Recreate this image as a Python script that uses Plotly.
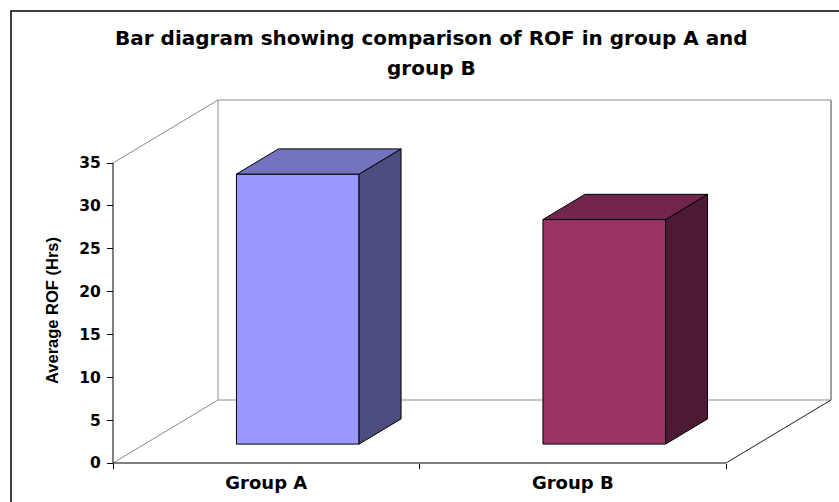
import plotly.graph_objects as go

# ---- data ----
categories = ["Group A", "Group B"]
rof_hours = [31.5, 26.2]
y_ticks = [0, 5, 10, 15, 20, 25, 30, 35]

front_colors = ["#9999FF", "#993366"]
top_colors = ["#7373BF", "#73264D"]
side_colors = ["#4D4D80", "#4D1A33"]

title_lines = ["Bar diagram showing comparison of ROF in group A and", "group B"]
y_title = "Average ROF (Hrs)"

# ---- oblique 3-D projection settings ----
W, H = 839, 502
PX_X = 306.5            # pixels per category unit on the front plane
PX_Y = 300 / 35         # pixels per hour on the front plane
DX = 105 / PX_X         # depth offset in x data units
DY = 63 / PX_Y          # depth offset in y data units
Y_MAX = 35
BAR_HALF = 0.2          # half bar width (category units)
T0, T1 = 0.3, 0.7       # bar depth span (fraction of full depth)
PAD = 3                 # px of breathing room around the plotting box

L = 113 - PAD
T = 100 - PAD
PW = 613 + 105 + 2 * PAD
PH = 300 + 63 + 2 * PAD
R = W - L - PW
B = H - T - PH


def proj(x, y, t):
    return x + t * DX, y + t * DY


fig = go.Figure()


def add_poly(pts, fill=None, color="black", width=1, closed=True):
    xy = [proj(*p) for p in pts]
    if closed:
        xy.append(xy[0])
    xs = [p[0] for p in xy]
    ys = [p[1] for p in xy]
    fig.add_trace(go.Scatter(
        x=xs, y=ys, mode="lines",
        fill="toself" if fill else None,
        fillcolor=fill,
        line=dict(color=color, width=width),
        hoverinfo="skip", showlegend=False,
    ))


x_lo, x_hi = -0.5, len(categories) - 0.5
wall_grey = "#8C8C8C"

# back wall
add_poly([(x_lo, 0, 1), (x_hi, 0, 1), (x_hi, Y_MAX, 1), (x_lo, Y_MAX, 1)],
         fill="white", color=wall_grey, width=1)
# right edge of the back wall (slightly heavier)
add_poly([(x_hi, 0, 1), (x_hi, Y_MAX, 1)], color="#A0A0A0", width=2, closed=False)
# side wall edges
add_poly([(x_lo, Y_MAX, 0), (x_lo, Y_MAX, 1)], color=wall_grey, closed=False)
add_poly([(x_lo, 0, 0), (x_lo, 0, 1)], color=wall_grey, closed=False)
# floor right edge
add_poly([(x_hi, 0, 0), (x_hi, 0, 1)], color="#202020", closed=False)

# bars
for i, v in enumerate(rof_hours):
    a, b = i - BAR_HALF, i + BAR_HALF
    # front face
    add_poly([(a, 0, T0), (b, 0, T0), (b, v, T0), (a, v, T0)], fill=front_colors[i])
    # right face
    add_poly([(b, 0, T0), (b, 0, T1), (b, v, T1), (b, v, T0)], fill=side_colors[i])
    # top face
    add_poly([(a, v, T0), (b, v, T0), (b, v, T1), (a, v, T1)], fill=top_colors[i])

# front axis lines
add_poly([(x_lo, 0, 0), (x_lo, Y_MAX, 0)], color="black", closed=False)
add_poly([(x_lo, 0, 0), (x_hi, 0, 0)], color="black", closed=False)

# invisible trace so the boundary-tick axis is rendered
fig.add_trace(go.Scatter(x=[0], y=[0], xaxis="x2", mode="markers",
                         marker=dict(opacity=0), hoverinfo="skip", showlegend=False))

x_range = [x_lo - PAD / PX_X, x_hi + DX + PAD / PX_X]
y_range = [-PAD / PX_Y, Y_MAX + DY + PAD / PX_Y]

tick_font = dict(family="DejaVu Sans", size=15.5, color="black", weight="bold")
cat_font = dict(family="DejaVu Sans", size=18, color="black", weight="bold")

fig.update_layout(
    width=W, height=H,
    margin=dict(l=L, r=R, t=T, b=B, pad=0),
    paper_bgcolor="white", plot_bgcolor="rgba(0,0,0,0)",
    showlegend=False,
    hovermode=False,
    xaxis=dict(
        range=x_range, anchor="free", position=PAD / PH,
        showgrid=False, zeroline=False, showline=False,
        tickmode="array", tickvals=list(range(len(categories))), ticktext=categories,
        ticks="", tickfont=cat_font, ticklabelstandoff=7,
    ),
    xaxis2=dict(
        range=x_range, overlaying="x", anchor="free", position=PAD / PH,
        showgrid=False, zeroline=False, showline=False,
        tickmode="array",
        tickvals=[k - 0.5 for k in range(len(categories) + 1)],
        ticks="outside", ticklen=5, tickwidth=1, tickcolor="black",
        showticklabels=False,
    ),
    yaxis=dict(
        range=y_range, anchor="free", position=PAD / PW,
        showgrid=False, zeroline=False, showline=False,
        tickmode="array", tickvals=y_ticks,
        ticks="outside", ticklen=6, tickwidth=1, tickcolor="black",
        tickfont=tick_font, ticklabelstandoff=3,
    ),
)

# chart frame
fig.add_shape(type="rect", xref="paper", yref="paper",
              x0=(11 - L) / PW, x1=(W + 10 - L) / PW,
              y0=(T + PH - (H + 10)) / PH, y1=(T + PH - 11) / PH,
              line=dict(color="black", width=1.5), fillcolor="rgba(0,0,0,0)", layer="below")

# title (two lines)
title_font = dict(family="DejaVu Sans", size=20, color="black", weight="bold")
for line, cy in zip(title_lines, [38, 68]):
    fig.add_annotation(text=line, xref="paper", yref="paper",
                       x=(431 - L) / PW, y=(T + PH - cy) / PH,
                       xanchor="center", yanchor="middle", showarrow=False, font=title_font)

# value axis title
fig.add_annotation(text="<b>" + y_title + "</b>", xref="paper", yref="paper",
                   x=(52 - L) / PW, y=(T + PH - 311) / PH,
                   xanchor="center", yanchor="middle", textangle=-90, showarrow=False,
                   font=dict(family="Liberation Sans", size=16.5, color="black"))

fig.write_html("out.html")
